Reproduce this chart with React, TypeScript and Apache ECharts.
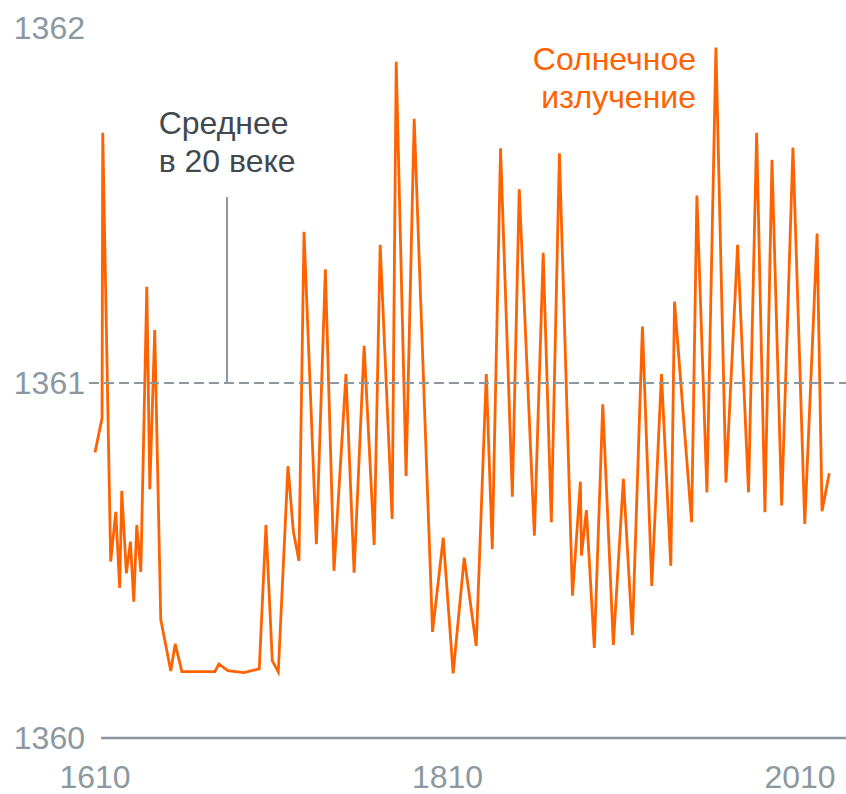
import React, { useEffect, useRef } from "react";
import * as echarts from "echarts";

// Years (x) and total solar irradiance values (W/m²)
const years = [
  1610.0, 1614.0, 1614.4, 1618.9, 1621.8, 1624.0, 1625.2, 1627.8, 1630.1, 1632.0,
  1633.7, 1636.0, 1639.4, 1641.1, 1643.9, 1647.3, 1653.0, 1655.5, 1659.3, 1678.0,
  1680.3, 1685.4, 1694.5, 1703.2, 1707.0, 1710.6, 1714.0, 1719.5, 1722.5, 1725.7,
  1728.6, 1735.6, 1740.7, 1745.6, 1752.4, 1757.0, 1762.7, 1768.4, 1771.8, 1778.6,
  1780.9, 1786.5, 1791.1, 1801.5, 1807.6, 1813.2, 1819.5, 1826.3, 1832.0, 1835.4,
  1840.1, 1846.8, 1850.7, 1859.3, 1864.3, 1868.9, 1873.5, 1880.9, 1885.4, 1886.0,
  1888.8, 1893.3, 1898.1, 1904.1, 1909.8, 1914.9, 1920.6, 1925.9, 1931.4, 1936.7,
  1938.8, 1948.5, 1951.5, 1957.2, 1962.3, 1968.0, 1974.6, 1980.8, 1985.4, 1990.1,
  1994.1, 1999.6, 2006.0, 2012.7, 2019.7, 2022.5, 2026.6,
];
const irradiance = [
  1360.804, 1360.901, 1361.705, 1360.497, 1360.637, 1360.423, 1360.696, 1360.464, 1360.553, 1360.384,
  1360.600, 1360.468, 1361.271, 1360.701, 1361.149, 1360.334, 1360.189, 1360.265, 1360.187, 1360.187,
  1360.208, 1360.190, 1360.184, 1360.195, 1360.600, 1360.217, 1360.186, 1360.766, 1360.583, 1360.499,
  1361.426, 1360.546, 1361.320, 1360.471, 1361.025, 1360.466, 1361.105, 1360.544, 1361.389, 1360.617,
  1361.905, 1360.738, 1361.744, 1360.299, 1360.564, 1360.182, 1360.508, 1360.259, 1361.025, 1360.532,
  1361.661, 1360.680, 1361.546, 1360.570, 1361.367, 1360.608, 1361.647, 1360.401, 1360.722, 1360.514,
  1360.642, 1360.254, 1360.940, 1360.262, 1360.730, 1360.290, 1361.159, 1360.428, 1361.025, 1360.485,
  1361.229, 1360.608, 1361.528, 1360.692, 1361.945, 1360.720, 1361.389, 1360.692, 1361.705, 1360.636,
  1361.629, 1360.655, 1361.663, 1360.603, 1361.421, 1360.639, 1360.746,
];

const yMin = 1360;
const yMax = 1362;
const yStep = 1;
const xMin = 1606.6;
const xMax = 2036.1;
const xTickLabels = [1610, 1810, 2010];
const centuryMean = 1361;
const annotationYear = 1684.7;
const annotationTop = 1361.524;
const seriesName = "Солнечное излучение";
const seriesLabelLines = ["Солнечное", "излучение"];
const meanLabelLines = ["Среднее", "в 20 веке"];

const FONT = "'Liberation Sans', Arial, Helvetica, sans-serif";
const ORANGE = "#ff6200";
const GRAY = "#8b98a0";
const DARK = "#3f494f";

export default function App() {
  const ref = useRef<HTMLDivElement>(null);

  useEffect(() => {
    document.body.style.margin = "0";
    const chart = echarts.init(ref.current!, null, { renderer: "svg" });
    const data = years.map((y, i) => [y, irradiance[i]]);

    chart.setOption({
      animation: false,
      backgroundColor: "#ffffff",
      grid: { left: 89, right: 0, top: 28, bottom: 56, containLabel: false },
      xAxis: {
        type: "value",
        min: xMin,
        max: xMax,
        axisLine: { show: false },
        axisTick: { show: false },
        splitLine: { show: false },
        axisLabel: {
          customValues: xTickLabels,
          formatter: (v: number) => String(Math.round(v)),
          color: GRAY,
          fontSize: 32,
          lineHeight: 28,
          fontFamily: FONT,
          margin: 25,
        },
      },
      yAxis: {
        type: "value",
        min: yMin,
        max: yMax,
        interval: yStep,
        axisLine: { show: false },
        axisTick: { show: false },
        splitLine: { show: false },
        axisLabel: {
          formatter: (v: number) => String(Math.round(v)),
          color: GRAY,
          fontSize: 32,
          fontFamily: FONT,
          margin: 4,
        },
      },
      series: [
        {
          name: seriesName,
          type: "line",
          data,
          showSymbol: false,
          symbol: "none",
          lineStyle: { color: ORANGE, width: 2.8, join: "miter" },
          z: 3,
          markLine: {
            silent: true,
            symbol: "none",
            label: { show: false },
            data: [
              {
                yAxis: centuryMean,
                lineStyle: { color: GRAY, width: 2, type: [10, 5] },
              },
              [
                { coord: [annotationYear, centuryMean] },
                { coord: [annotationYear, annotationTop] },
              ],
            ],
            lineStyle: { color: GRAY, width: 2, type: "solid" },
          },
        },
      ],
    });

    const yBase = chart.convertToPixel({ yAxisIndex: 0 }, yMin) as number;
    const xAnn = chart.convertToPixel({ xAxisIndex: 0 }, annotationYear) as number;
    const yAnnTop = chart.convertToPixel({ yAxisIndex: 0 }, annotationTop) as number;

    chart.setOption({
      graphic: [
        {
          type: "line",
          shape: { x1: 101, y1: yBase, x2: 846, y2: yBase },
          style: { stroke: GRAY, lineWidth: 2.5 },
          z: 2,
        },
        {
          type: "text",
          x: xAnn - 68,
          y: yAnnTop - 93,
          style: {
            text: meanLabelLines.join("\n"),
            fill: DARK,
            font: `32px ${FONT}`,
            lineHeight: 38,
            textAlign: "left",
            textVerticalAlign: "top",
          },
        },
        {
          type: "text",
          x: 696,
          y: 40,
          style: {
            text: seriesLabelLines.join("\n"),
            fill: ORANGE,
            font: `32px ${FONT}`,
            lineHeight: 38,
            textAlign: "right",
            textVerticalAlign: "top",
          },
        },
      ],
    });

    return () => chart.dispose();
  }, []);

  return (
    <div
      ref={ref}
      style={{ position: "fixed", left: 0, top: 0, width: 846, height: 794 }}
    />
  );
}
